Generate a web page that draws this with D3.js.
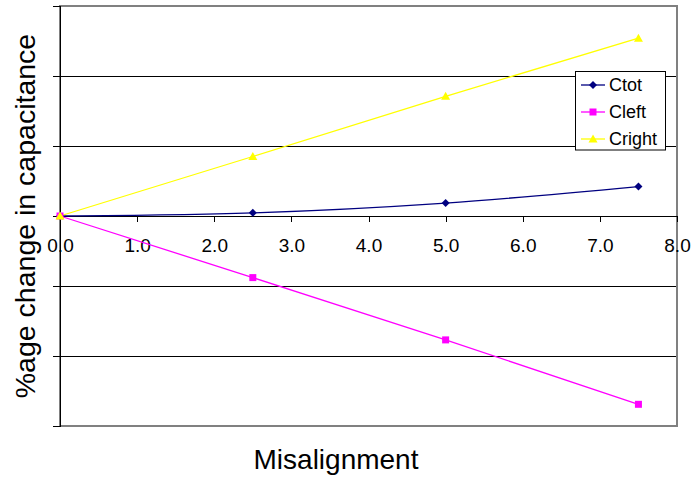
<!DOCTYPE html>
<html><head><meta charset="utf-8">
<script src="https://cdn.jsdelivr.net/npm/d3@7"></script>
<style>body{margin:0;background:#fff;}svg{display:block;font-family:Arial,"Liberation Sans",sans-serif;}</style>
</head><body>
<svg id="c" width="691" height="477"></svg>
<script>
const misalignment = [0, 2.5, 5.0, 7.5];
const ctot = [0, 0.45, 1.85, 4.2];
const cleft = [0, -8.8, -17.7, -26.9];
const cright = [0, 8.5, 17.1, 25.4];
const xTicks = [0,1,2,3,4,5,6,7,8];
const yTicks = [-30,-20,-10,0,10,20,30];
const seriesNames = ["Ctot","Cleft","Cright"];
const seriesColors = ["#000080","#FF00FF","#FFFF00"];

const svg = d3.select("#c");
const L=60, R=677, T=6, B=426;
const x = d3.scaleLinear().domain([0,8]).range([L,R]);
const y = d3.scaleLinear().domain([-30,30]).range([B,T]);

// gridlines
svg.append("g").selectAll("line").data(yTicks.filter(d=>d!==30 && d!==-30 && d!==0)).join("line")
  .attr("x1",L).attr("x2",R).attr("y1",d=>y(d)).attr("y2",d=>y(d)).attr("stroke","#000").attr("stroke-width",1)
  .attr("shape-rendering","crispEdges");
// plot border (gray)
svg.append("rect").attr("x",L).attr("y",T).attr("width",R-L).attr("height",B-T)
  .attr("fill","none").attr("stroke","#808080").attr("stroke-width",1.5).attr("shape-rendering","crispEdges");

// y axis
const yAxis = d3.axisLeft(y).tickValues(yTicks).tickSize(7).tickFormat("");
const gy = svg.append("g").attr("transform",`translate(${L},0)`).call(yAxis);
gy.selectAll("path,line").attr("stroke","#000").attr("shape-rendering","crispEdges");

// x axis at y=0
const xAxis = d3.axisBottom(x).tickValues(xTicks).tickSize(6).tickFormat(d3.format(".1f"));
const gx = svg.append("g").attr("transform",`translate(0,${y(0)})`).call(xAxis);
gx.select(".domain").attr("stroke","#000").attr("shape-rendering","crispEdges");
gx.selectAll("line").attr("stroke","#000").attr("shape-rendering","crispEdges");
gx.selectAll("text").attr("font-size",19).attr("fill","#000").attr("dy",0).attr("y",36)
  .attr("font-family","Arial, 'Liberation Sans', sans-serif");

const data = [ctot, cleft, cright];
const curves = [d3.curveMonotoneX, d3.curveLinear, d3.curveLinear];
data.forEach((vals,i)=>{
  const pts = misalignment.map((m,j)=>[m,vals[j]]);
  svg.append("path").datum(pts)
    .attr("d", d3.line().x(d=>x(d[0])).y(d=>y(d[1])).curve(curves[i]))
    .attr("fill","none").attr("stroke",seriesColors[i]).attr("stroke-width",1.3);
});
function marker(g, i, cx, cy){
  if(i===0){
    g.append("path").attr("d",`M${cx},${cy-4}L${cx+4},${cy}L${cx},${cy+4}L${cx-4},${cy}Z`).attr("fill",seriesColors[0]);
  } else if(i===1){
    g.append("rect").attr("x",cx-3.5).attr("y",cy-3.5).attr("width",7).attr("height",7).attr("fill",seriesColors[1]);
  } else {
    g.append("path").attr("d",`M${cx},${cy-4.5}L${cx+4.5},${cy+3.5}L${cx-4.5},${cy+3.5}Z`).attr("fill",seriesColors[2]);
  }
}
const mg = svg.append("g");
data.forEach((vals,i)=>{
  misalignment.forEach((m,j)=>marker(mg,i,x(m),y(vals[j])));
});

// legend
const lg = svg.append("g");
lg.append("rect").attr("x",575.5).attr("y",71.5).attr("width",90).attr("height",78.5)
  .attr("fill","#fff").attr("stroke","#000").attr("stroke-width",1);
seriesNames.forEach((n,i)=>{
  const cy = 85 + i*27;
  lg.append("line").attr("x1",581).attr("x2",605).attr("y1",cy).attr("y2",cy).attr("stroke",seriesColors[i]).attr("stroke-width",1.3);
  marker(lg,i,593,cy);
  lg.append("text").attr("x",609).attr("y",cy).attr("dy","0.36em").attr("font-size",18).text(n);
});

// titles
svg.append("text").attr("x",336).attr("y",469).attr("text-anchor","middle").attr("font-size",28).text("Misalignment");
svg.append("text").attr("transform",`translate(35,216) rotate(-90)`).attr("text-anchor","middle")
  .attr("font-size",28.5).text("%age change in capacitance");
</script>
</body></html>
